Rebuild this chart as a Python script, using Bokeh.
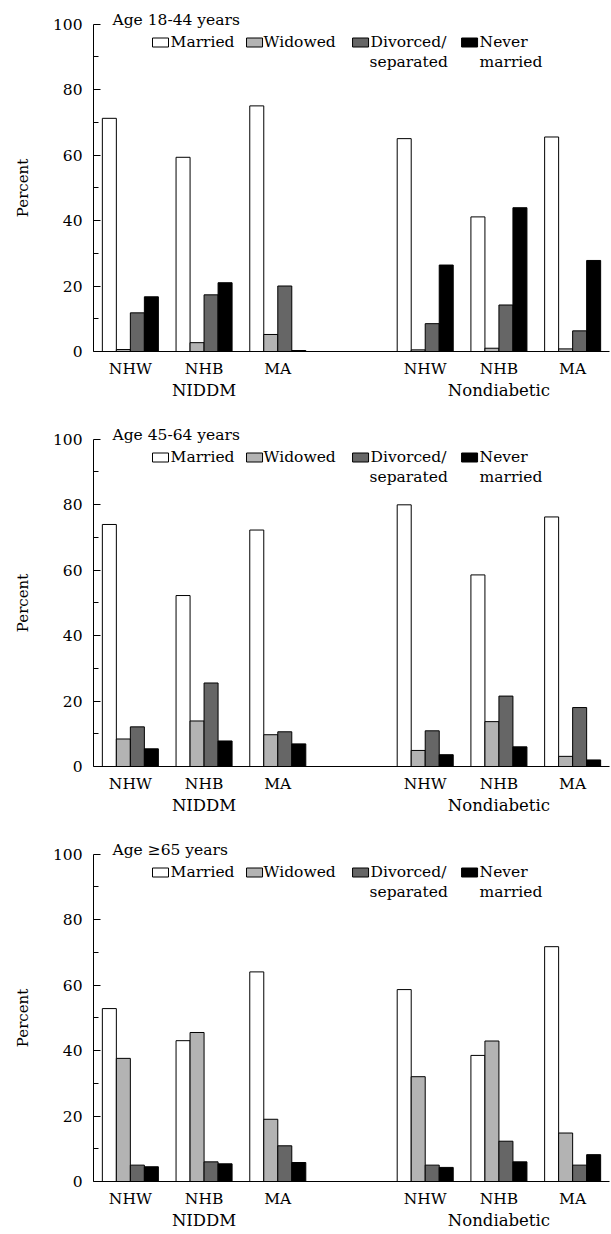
from bokeh.plotting import figure
from bokeh.layouts import column
from bokeh.models import FixedTicker, LinearAxis, Label, ColumnDataSource
from bokeh.embed import file_html
from bokeh.resources import INLINE

# ---------------- data ----------------
groups = ["NHW", "NHB", "MA", "NHW", "NHB", "MA"]
group_slots = [0, 1, 2, 4, 5, 6]
study_groups = ["NIDDM", "Nondiabetic"]
study_slots = [1, 5]
statuses = ["Married", "Widowed", "Divorced/separated", "Never married"]
panel_titles = ["Age 18-44 years", "Age 45-64 years", "Age \u226565 years"]

# values per panel: rows = groups (NIDDM NHW, NHB, MA, Nondiabetic NHW, NHB, MA)
married_18_44 = [71.2, 59.3, 75.0, 65.0, 41.1, 65.5]
widowed_18_44 = [0.6, 2.7, 5.2, 0.5, 1.0, 0.8]
divorced_18_44 = [11.8, 17.3, 20.0, 8.5, 14.2, 6.3]
never_18_44 = [16.7, 21.0, 0.3, 26.4, 43.9, 27.8]

married_45_64 = [73.9, 52.2, 72.2, 79.9, 58.5, 76.2]
widowed_45_64 = [8.4, 13.9, 9.7, 4.9, 13.7, 3.1]
divorced_45_64 = [12.1, 25.5, 10.6, 10.9, 21.5, 18.0]
never_45_64 = [5.4, 7.8, 6.9, 3.6, 6.0, 2.0]

married_65 = [52.8, 43.0, 64.0, 58.6, 38.5, 71.7]
widowed_65 = [37.6, 45.5, 19.0, 32.0, 42.9, 14.8]
divorced_65 = [5.0, 6.0, 10.9, 5.0, 12.3, 5.0]
never_65 = [4.5, 5.4, 5.8, 4.3, 6.0, 8.2]

y_ticks = [0, 20, 40, 60, 80, 100]
y_minor = [10, 30, 50, 70, 90]

panels = [
    [married_18_44, widowed_18_44, divorced_18_44, never_18_44],
    [married_45_64, widowed_45_64, divorced_45_64, never_45_64],
    [married_65, widowed_65, divorced_65, never_65],
]

# ---------------- style ----------------
FONT = "DejaVu Serif"
colors = ["#ffffff", "#b3b3b3", "#666666", "#000000"]
BAR_W = 0.19
heights = [415, 415, 404]

# pixel layout helpers (frame left at 93px, 73.7px per slot; 0 at 351px, 3.275px per unit)
X0, SLOT = 93.0, 73.7
Y0, PPU = 351.0, 3.275
def xd(px):
    return (px - X0) / SLOT - 0.5
def yd(py):
    return (Y0 - py) / PPU

legend_boxes = [(152, 168), (246, 262), (352, 368), (461, 477)]
legend_row1 = [(170, "Married"), (263, "Widowed"), (370, "Divorced/"), (479, "Never")]
legend_row2 = [(369, "separated"), (479, "married")]

figs = []
for pi, vals in enumerate(panels):
    p = figure(width=611, height=heights[pi], x_range=(-0.5, 6.5), y_range=(0, Y0 / PPU),
               output_backend="svg", toolbar_location=None,
               min_border_left=93, min_border_right=2, min_border_top=0,
               min_border_bottom=heights[pi] - 351, x_axis_location=None)
    p.outline_line_color = None
    p.xgrid.visible = False
    p.ygrid.visible = False
    p.background_fill_color = "white"
    p.border_fill_color = "white"

    for k, series in enumerate(vals):
        xs = [s + (k - 1.5) * BAR_W for s in group_slots]
        src = ColumnDataSource(dict(x=xs, top=series))
        p.vbar(x="x", top="top", bottom=0, width=BAR_W, source=src,
               fill_color=colors[k], line_color="black", line_width=1)

    # y axis
    ya = p.yaxis[0]
    ya.ticker = FixedTicker(ticks=y_ticks, minor_ticks=y_minor)
    ya.bounds = (0, 100)
    ya.major_tick_in = 7
    ya.major_tick_out = 0
    ya.minor_tick_in = 5
    ya.minor_tick_out = 0
    ya.major_label_standoff = 11
    ya.major_label_text_font = FONT
    ya.major_label_text_font_size = "15.5px"
    ya.major_label_text_color = "black"
    ya.axis_line_color = "black"
    ya.major_tick_line_color = "black"
    ya.minor_tick_line_color = "black"
    ya.axis_label = "Percent" + "\u00a0" * 5
    ya.axis_label_text_font = FONT
    ya.axis_label_text_font_style = "normal"
    ya.axis_label_text_font_size = "15px"
    ya.axis_label_text_color = "black"
    ya.axis_label_standoff = 18

    # x axis with group labels
    xa = LinearAxis(ticker=FixedTicker(ticks=group_slots),
                    major_label_overrides={s: g for s, g in zip(group_slots, groups)})
    xa.major_tick_in = 0
    xa.major_tick_out = 0
    xa.minor_tick_in = 0
    xa.minor_tick_out = 0
    xa.major_label_standoff = 8
    xa.major_label_text_font = FONT
    xa.major_label_text_font_size = "15.5px"
    xa.major_label_text_color = "black"
    xa.axis_line_color = "black"
    p.add_layout(xa, "below")

    xb = LinearAxis(ticker=FixedTicker(ticks=study_slots),
                    major_label_overrides={s: g for s, g in zip(study_slots, study_groups)})
    xb.axis_line_color = None
    xb.major_tick_line_color = None
    xb.minor_tick_line_color = None
    xb.major_tick_in = 0
    xb.major_tick_out = 0
    xb.major_label_standoff = 0
    xb.major_label_text_font = FONT
    xb.major_label_text_font_size = "16.5px"
    xb.major_label_text_color = "black"
    p.add_layout(xb, "below")

    # legend / title block
    p.add_layout(Label(x=xd(112), y=yd(19.5), text=panel_titles[pi], text_font=FONT,
                       text_font_size="15.5px", text_baseline="middle", text_color="black"))
    lb = ColumnDataSource(dict(left=[xd(a) for a, b in legend_boxes],
                               right=[xd(b) for a, b in legend_boxes],
                               top=[yd(37.5)] * 4, bottom=[yd(46.5)] * 4,
                               color=colors))
    p.quad(left="left", right="right", top="top", bottom="bottom", source=lb,
           fill_color="color", line_color="black", line_width=1)
    for xpx, t in legend_row1:
        p.add_layout(Label(x=xd(xpx), y=yd(41.8), text=t, text_font=FONT,
                           text_font_size="15.5px", text_baseline="middle", text_color="black"))
    for xpx, t in legend_row2:
        p.add_layout(Label(x=xd(xpx), y=yd(61.3), text=t, text_font=FONT,
                           text_font_size="15.5px", text_baseline="middle", text_color="black"))
    figs.append(p)

layout = column(*figs, spacing=0)
open("out.html", "w").write(file_html(layout, INLINE))
